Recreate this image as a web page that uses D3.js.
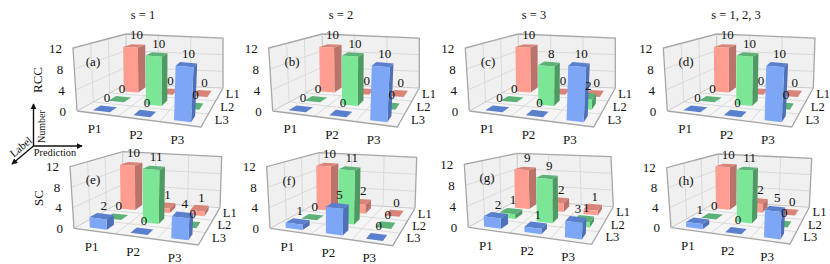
<!DOCTYPE html>
<html>
<head>
<meta charset="utf-8">
<script src="https://cdnjs.cloudflare.com/ajax/libs/d3/7.8.5/d3.min.js"></script>
<style>
  html, body { margin: 0; padding: 0; background: #fff; }
  svg { display: block; }
  text { font-family: "Liberation Serif", serif; fill: #111; }
</style>
</head>
<body>
<div id="chart"></div>
<script>
// categories, rows are back to front, columns left to right
const predictions = ['P1', 'P2', 'P3']
const labels = ['L1', 'L2', 'L3']
const zTicks = [0, 4, 8, 12]

// series values
const rccS1 = [[10, 0, 0], [0, 10, 0], [0, 0, 10]]
const rccS2 = [[10, 0, 0], [0, 10, 0], [0, 0, 10]]
const rccS3 = [[10, 0, 0], [0, 8, 2], [0, 0, 10]]
const rccAll = [[10, 0, 0], [0, 10, 0], [0, 0, 10]]
const scS1 = [[10, 1, 1], [0, 11, 0], [2, 0, 4]]
const scS2 = [[10, 2, 0], [0, 11, 0], [1, 5, 0]]
const scS3 = [[9, 2, 1], [1, 9, 1], [2, 1, 3]]
const scAll = [[10, 2, 0], [0, 11, 0], [1, 0, 5]]

const tags = ['(a)', '(b)', '(c)', '(d)', '(e)', '(f)', '(g)', '(h)']
const titles = ['s = 1', 's = 2', 's = 3', 's = 1, 2, 3']
const series = [rccS1, rccS2, rccS3, rccAll, scS1, scS2, scS3, scAll]

//layout of each box: floor corners fl, fr, br, bl and the wall tops ftl, btl, btr (pixels)
const frames = [
  { fl: [77, 111], fr: [201, 127], br: [223, 88], bl: [126, 84], ftl: [73, 48], btl: [126, 34], btr: [223, 38], tag: [93, 61] },
  { fl: [272.7, 111], fr: [397.3, 127], br: [419.3, 88], bl: [322.3, 84], ftl: [268.7, 48], btl: [322.3, 34], btr: [419.3, 38], tag: [292, 61] },
  { fl: [469.3, 111], fr: [593.7, 127], br: [615.3, 88], bl: [518.3, 84], ftl: [465.3, 48], btl: [518.3, 34], btr: [615.3, 38], tag: [488, 61] },
  { fl: [667.3, 111], fr: [791.7, 127], br: [813.3, 88], bl: [716.7, 84], ftl: [663.3, 48], btl: [716.7, 34], btr: [815, 38], tag: [686, 61] },
  { fl: [74, 228.3], fr: [198.3, 245], br: [220, 207.7], bl: [122.7, 201], ftl: [70, 166.7], btl: [122.7, 151.7], btr: [221.7, 156.7], tag: [93, 179] },
  { fl: [270, 228.3], fr: [392.7, 245.7], br: [415, 208.3], bl: [319, 202], ftl: [266.7, 166.7], btl: [319, 152.7], btr: [416.7, 157.3], tag: [289, 180] },
  { fl: [468.3, 227.3], fr: [591.7, 244.3], br: [613.3, 206.7], bl: [517.3, 200], ftl: [464.3, 164.3], btl: [517.3, 153.3], btr: [611, 156.7], tag: [487, 177] },
  { fl: [671, 227.7], fr: [790, 244], br: [809.3, 207.3], bl: [718.3, 201], ftl: [666.7, 167.7], btl: [718.3, 154], btr: [811.7, 158.3], tag: [686, 180] }
]
const titleX = [143, 341, 534, 736]

const colors = {
  L1: { front: '#ff9d90', side: '#b9736a', top: '#d98478' },
  L2: { front: '#7be696', side: '#4e9a64', top: '#5cb276' },
  L3: { front: '#7da6f6', side: '#4f6fb6', top: '#5a7fcc' }
}

const width = 830
const height = 264

const svg = d3.select('#chart')
  .append('svg')
  .attr('width', width)
  .attr('height', height)

//scales, all of them go from the category or value to a 0-1 position inside the box
const uScale = d3.scaleBand().domain(predictions).range([0, 1]).paddingInner(0.58).paddingOuter(0.29)
const vScale = d3.scaleBand().domain(labels.slice().reverse()).range([0, 1]).paddingInner(0.5).paddingOuter(0.25)
const zScale = d3.scaleLinear().domain([0, 12]).range([0, 1])

const mix = (a, b, t) => [a[0] + (b[0] - a[0]) * t, a[1] + (b[1] - a[1]) * t]
const polygon = d3.line().curve(d3.curveLinearClosed)

function drawPanel(g, frame, values, tag) {
  //the front right top corner is hidden in the picture, it leans out from the floor corner
  const ftr = [frame.fr[0] + 4, frame.fr[1] - 68]

  const project = (u, v, z) => {
    const floor = mix(mix(frame.fl, frame.fr, u), mix(frame.bl, frame.br, u), v)
    const top = mix(mix(frame.ftl, ftr, u), mix(frame.btl, frame.btr, u), v)
    return mix(floor, top, z)
  }

  //walls and floor
  const wallFill = '#f0f0f0'
  g.append('path').attr('d', polygon([project(0, 0, 0), project(1, 0, 0), project(1, 1, 0), project(0, 1, 0)])).attr('fill', '#f5f5f5')
  g.append('path').attr('d', polygon([project(0, 0, 0), project(0, 1, 0), project(0, 1, 1), project(0, 0, 1)])).attr('fill', wallFill)
  g.append('path').attr('d', polygon([project(0, 1, 0), project(1, 1, 0), project(1, 1, 1), project(0, 1, 1)])).attr('fill', wallFill)

  //grid lines
  const gridLines = []
  ;[1 / 3, 2 / 3].forEach(t => {
    gridLines.push([project(t, 0, 0), project(t, 1, 0), project(t, 1, 1)])
    gridLines.push([project(0, t, 1), project(0, t, 0), project(1, t, 0)])
  })
  zTicks.slice(1, 3).forEach(d => {
    gridLines.push([project(0, 0, zScale(d)), project(0, 1, zScale(d)), project(1, 1, zScale(d))])
  })
  g.selectAll('.grid')
    .data(gridLines)
    .join('path')
    .attr('class', 'grid')
    .attr('d', d3.line())
    .attr('fill', 'none')
    .attr('stroke', '#d4d4d4')
    .attr('stroke-width', 0.8)

  //box outline
  const outline = [
    [project(0, 0, 0), project(1, 0, 0), project(1, 1, 0)],
    [project(0, 0, 0), project(0, 0, 1), project(0, 1, 1), project(1, 1, 1), project(1, 1, 0)],
    [project(0, 0, 0), project(0, 1, 0), project(0, 1, 1)],
    [project(0, 1, 0), project(1, 1, 0)]
  ]
  g.selectAll('.edge')
    .data(outline)
    .join('path')
    .attr('class', 'edge')
    .attr('d', d3.line())
    .attr('fill', 'none')
    .attr('stroke', (d, i) => i < 2 ? '#a6a6a6' : '#c4c4c4')
    .attr('stroke-width', (d, i) => i < 2 ? 1.3 : 0.9)

  //bars, back row first so the front row paints over it
  const bars = labels.flatMap((label, r) => predictions.map((pred, c) => ({ label, pred, value: values[r][c] })))
  const faces = bars.flatMap(d => {
    const u0 = uScale(d.pred)
    const u1 = u0 + uScale.bandwidth()
    const v0 = vScale(d.label)
    const v1 = v0 + vScale.bandwidth()
    const z = zScale(d.value)
    const c = colors[d.label]
    const topFace = { pts: [project(u0, v0, z), project(u1, v0, z), project(u1, v1, z), project(u0, v1, z)], fill: c.top }
    if (d.value === 0) return [topFace]
    return [
      { pts: [project(u1, v0, 0), project(u1, v1, 0), project(u1, v1, z), project(u1, v0, z)], fill: c.side },
      topFace,
      { pts: [project(u0, v0, 0), project(u1, v0, 0), project(u1, v0, z), project(u0, v0, z)], fill: c.front }
    ]
  })
  g.selectAll('.face')
    .data(faces)
    .join('path')
    .attr('class', 'face')
    .attr('d', d => polygon(d.pts))
    .attr('fill', d => d.fill)

  //value labels on top of all bars
  g.selectAll('.value')
    .data(bars)
    .join('text')
    .attr('class', 'value')
    .attr('x', d => project(uScale(d.pred) + uScale.bandwidth() / 2, vScale(d.label) + vScale.bandwidth() / 2, zScale(d.value))[0] + 2)
    .attr('y', d => project(uScale(d.pred) + uScale.bandwidth() / 2, vScale(d.label) + vScale.bandwidth() / 2, zScale(d.value))[1] - 11)
    .attr('text-anchor', 'middle')
    .attr('dominant-baseline', 'central')
    .attr('font-size', 13)
    .text(d => d.value)

  //axis labels
  g.selectAll('.ztick')
    .data(zTicks)
    .join('text')
    .attr('class', 'ztick')
    .attr('x', d => project(0, 0, zScale(d))[0] - 11)
    .attr('y', d => project(0, 0, zScale(d))[1])
    .attr('text-anchor', 'end')
    .attr('dominant-baseline', 'central')
    .attr('font-size', 13)
    .text(d => d)

  g.selectAll('.xtick')
    .data(predictions)
    .join('text')
    .attr('class', 'xtick')
    .attr('x', d => project(uScale(d) + uScale.bandwidth() / 2, 0, 0)[0] - 3)
    .attr('y', d => project(uScale(d) + uScale.bandwidth() / 2, 0, 0)[1] + 15)
    .attr('text-anchor', 'middle')
    .attr('dominant-baseline', 'central')
    .attr('font-size', 13)
    .text(d => d)

  g.selectAll('.ytick')
    .data(labels)
    .join('text')
    .attr('class', 'ytick')
    .attr('x', d => {
      const v = vScale(d) + vScale.bandwidth() / 2
      //the front labels sit a little further from the floor edge
      return project(1, v, 0)[0] + 12.5 + 5.5 * (1 - v)
    })
    .attr('y', d => project(1, vScale(d) + vScale.bandwidth() / 2, 0)[1] - 1)
    .attr('text-anchor', 'middle')
    .attr('dominant-baseline', 'central')
    .attr('font-size', 12.5)
    .text(d => d)

  g.append('text')
    .attr('x', frame.tag[0])
    .attr('y', frame.tag[1])
    .attr('text-anchor', 'middle')
    .attr('dominant-baseline', 'central')
    .attr('font-size', 13)
    .text(tag)
}

frames.forEach((frame, i) => {
  drawPanel(svg.append('g'), frame, series[i], tags[i])
})

//column titles
svg.selectAll('.title')
  .data(titles)
  .join('text')
  .attr('class', 'title')
  .attr('x', (d, i) => titleX[i])
  .attr('y', 15)
  .attr('text-anchor', 'middle')
  .attr('dominant-baseline', 'central')
  .attr('font-size', 12.5)
  .text(d => d)

//row titles
const rowTitles = [['RCC', 37, 80], ['SC', 38, 198]]
rowTitles.forEach(([name, x, y]) => {
  svg.append('text')
    .attr('transform', `translate(${x},${y}) rotate(-90)`)
    .attr('text-anchor', 'middle')
    .attr('dominant-baseline', 'central')
    .attr('font-size', 13)
    .text(name)
})

//little axis key on the left
svg.append('defs').append('marker')
  .attr('id', 'head')
  .attr('viewBox', '0 0 8 8')
  .attr('refX', 7)
  .attr('refY', 4)
  .attr('markerWidth', 6)
  .attr('markerHeight', 6)
  .attr('markerUnits', 'userSpaceOnUse')
  .attr('orient', 'auto')
  .append('path')
  .attr('d', 'M0,0L8,4L0,8Z')
  .attr('fill', '#111')

const keyArrows = [
  [[33.5, 146], [33.5, 104]],
  [[33.5, 146], [82, 146]],
  [[33.5, 146], [12, 164]]
]
svg.selectAll('.key')
  .data(keyArrows)
  .join('path')
  .attr('class', 'key')
  .attr('d', d3.line())
  .attr('stroke', '#111')
  .attr('stroke-width', 1.4)
  .attr('marker-end', 'url(#head)')

const keyTexts = [['Number', 41, 126.5, -90, 10], ['Prediction', 55, 152.5, 0, 10.3], ['Label', 20.7, 146.7, -40, 11]]
keyTexts.forEach(([name, x, y, angle, size]) => {
  svg.append('text')
    .attr('transform', `translate(${x},${y}) rotate(${angle})`)
    .attr('text-anchor', 'middle')
    .attr('dominant-baseline', 'central')
    .attr('font-size', size)
    .text(name)
})
</script>
</body>
</html>
